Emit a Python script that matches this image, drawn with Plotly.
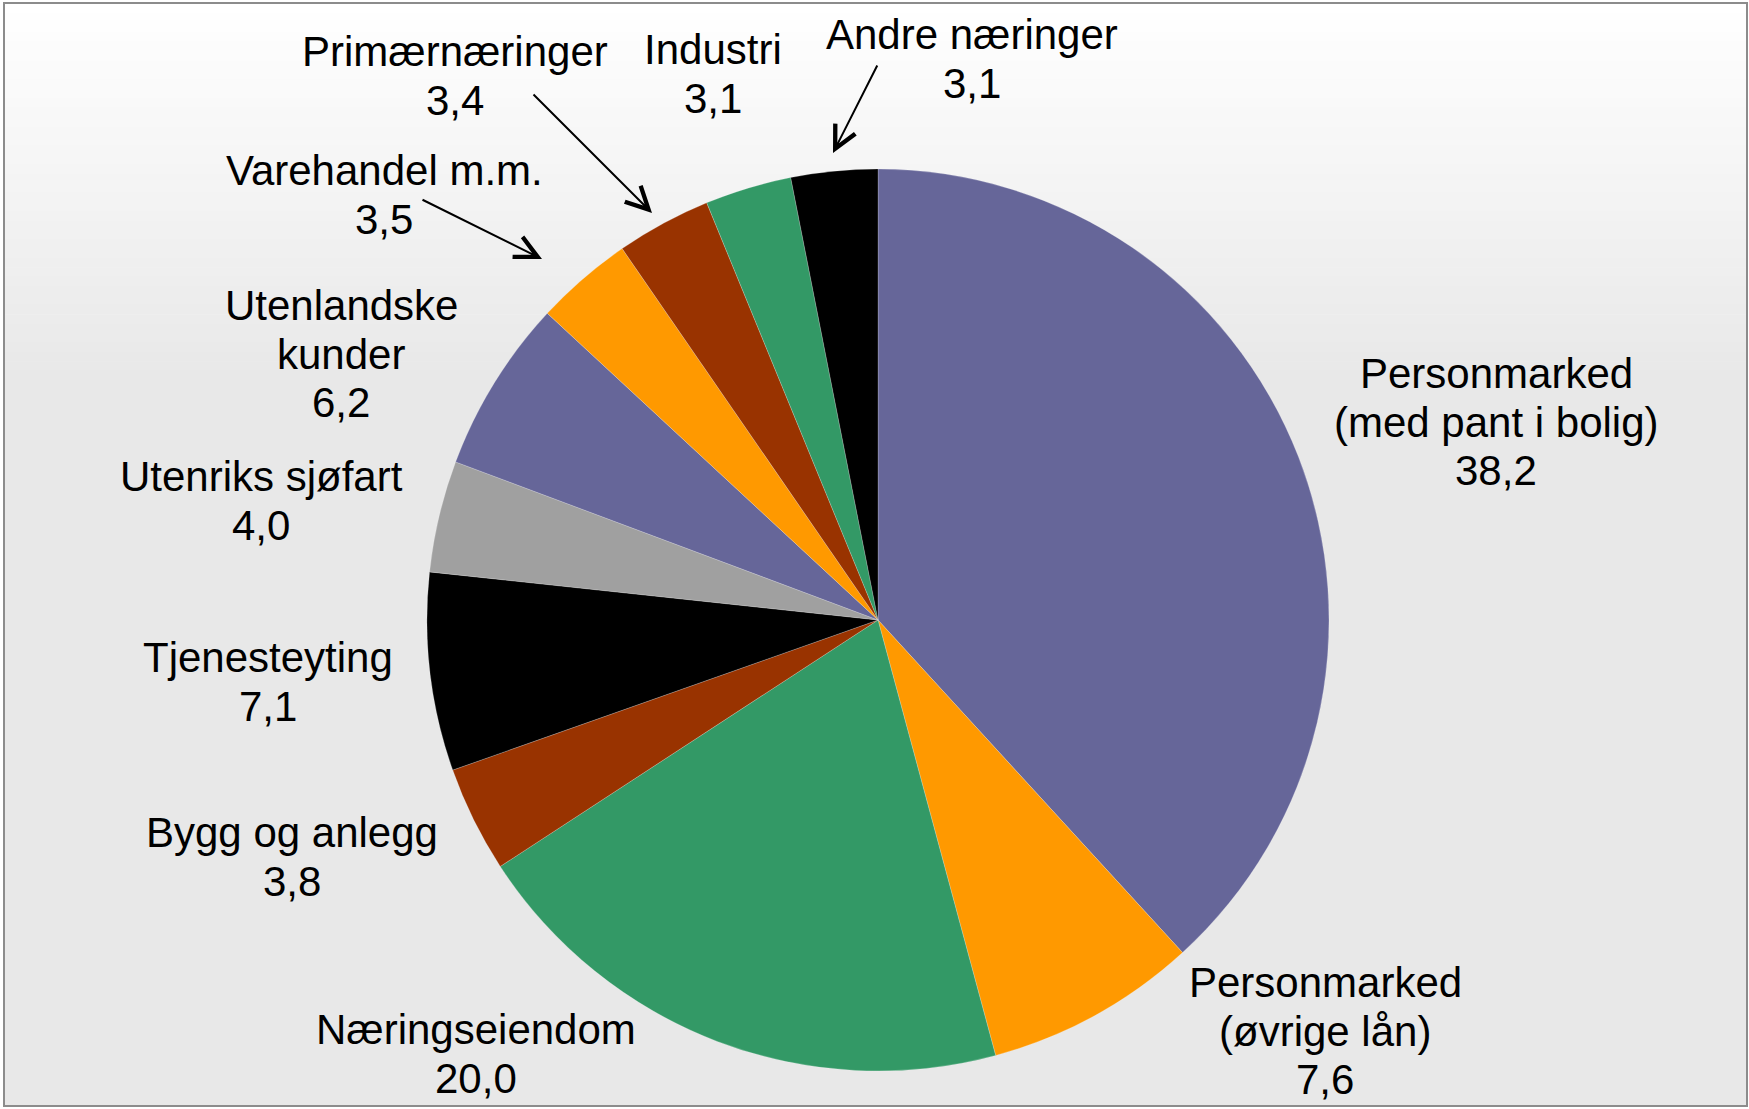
import plotly.graph_objects as go

# ---- data ----
categories = [
    "Personmarked (med pant i bolig)",
    "Personmarked (øvrige lån)",
    "Næringseiendom",
    "Bygg og anlegg",
    "Tjenesteyting",
    "Utenriks sjøfart",
    "Utenlandske kunder",
    "Varehandel m.m.",
    "Primærnæringer",
    "Industri",
    "Andre næringer",
]
values = [38.2, 7.6, 20.0, 3.8, 7.1, 4.0, 6.2, 3.5, 3.4, 3.1, 3.1]
label_lines = [
    ["Personmarked", "(med pant i bolig)"],
    ["Personmarked", "(øvrige lån)"],
    ["Næringseiendom"],
    ["Bygg og anlegg"],
    ["Tjenesteyting"],
    ["Utenriks sjøfart"],
    ["Utenlandske", "kunder"],
    ["Varehandel m.m."],
    ["Primærnæringer"],
    ["Industri"],
    ["Andre næringer"],
]

# ---- styles / layout ----
colors = ["#666699", "#FF9900", "#339966", "#993300", "#000000", "#A0A0A0",
          "#666699", "#FF9900", "#993300", "#339966", "#000000"]
W, H = 1749, 1109
CX, CY, R = 878, 620, 451
FONT = "Liberation Sans, Arial, sans-serif"
FS = 42
LS = 48.5
label_pos = [(1496, 422), (1325, 1031), (476, 1054), (292, 857), (268, 682),
             (261, 501), (341, 354), (384, 195), (455, 76), (713, 74), (972, 59)]
arrows = {  # index: (tail, head)
    7: ((421, 199), (542, 259)),
    8: ((532, 93), (652, 213)),
    10: ((878, 64), (833, 153)),
}

fig = go.Figure()
fig.add_trace(go.Pie(
    labels=categories, values=values, sort=False, direction="clockwise",
    rotation=0, textinfo="none", hoverinfo="label+value",
    marker=dict(colors=colors, line=dict(color="rgba(255,255,255,0.5)", width=0.4)),
    domain=dict(x=[(CX - R) / W, (CX + R) / W],
                y=[(H - CY - R) / H, (H - CY + R) / H]),
    showlegend=False,
))
# empty cartesian trace to instantiate pixel axes
fig.add_trace(go.Scatter(x=[], y=[], showlegend=False, hoverinfo="skip"))

shapes = []
# background gradient
top, stop, bottom = 4, 380, 1106
N = 40
for i in range(N):
    y0 = top + (stop - top) * i / N
    y1 = top + (stop - top) * (i + 1) / N + 0.5
    c = round(255 - (255 - 232) * (i + 0.5) / N)
    shapes.append(dict(type="rect", xref="x", yref="y", x0=4, x1=1747, y0=y0, y1=y1,
                       fillcolor=f"rgb({c},{c},{c})", line=dict(width=0), layer="below"))
shapes.append(dict(type="rect", xref="x", yref="y", x0=4, x1=1747, y0=stop, y1=bottom,
                   fillcolor="rgb(232,232,232)", line=dict(width=0), layer="below"))
shapes.append(dict(type="rect", xref="x", yref="y", x0=4, x1=1747, y0=3, y1=1106,
                   fillcolor="rgba(0,0,0,0)", line=dict(color="#8c8c8c", width=2), layer="below"))

annotations = []
for i, (lines, v) in enumerate(zip(label_lines, values)):
    all_lines = lines + [f"{v:.1f}".replace(".", ",")]
    cx, cy = label_pos[i]
    n = len(all_lines)
    for j, t in enumerate(all_lines):
        annotations.append(dict(
            x=cx, y=cy + (j - (n - 1) / 2) * LS, xref="x", yref="y", text=t,
            showarrow=False, xanchor="center", yanchor="middle",
            font=dict(family=FONT, size=FS, color="#000000")))
for idx, (tail, head) in arrows.items():
    annotations.append(dict(
        x=head[0], y=head[1], ax=tail[0], ay=tail[1], xref="x", yref="y",
        axref="x", ayref="y", text="", showarrow=True, arrowhead=5,
        arrowsize=2.2, arrowwidth=2, arrowcolor="#000000"))

fig.update_layout(
    width=W, height=H, margin=dict(l=0, r=0, t=0, b=0),
    paper_bgcolor="#ffffff", plot_bgcolor="rgba(0,0,0,0)",
    xaxis=dict(range=[0, W], visible=False, fixedrange=True),
    yaxis=dict(range=[H, 0], visible=False, fixedrange=True),
    shapes=shapes, annotations=annotations,
)
fig.write_html("out.html", config={"displayModeBar": False},
               post_script="document.body.style.margin='0';document.body.style.overflow='hidden';")
